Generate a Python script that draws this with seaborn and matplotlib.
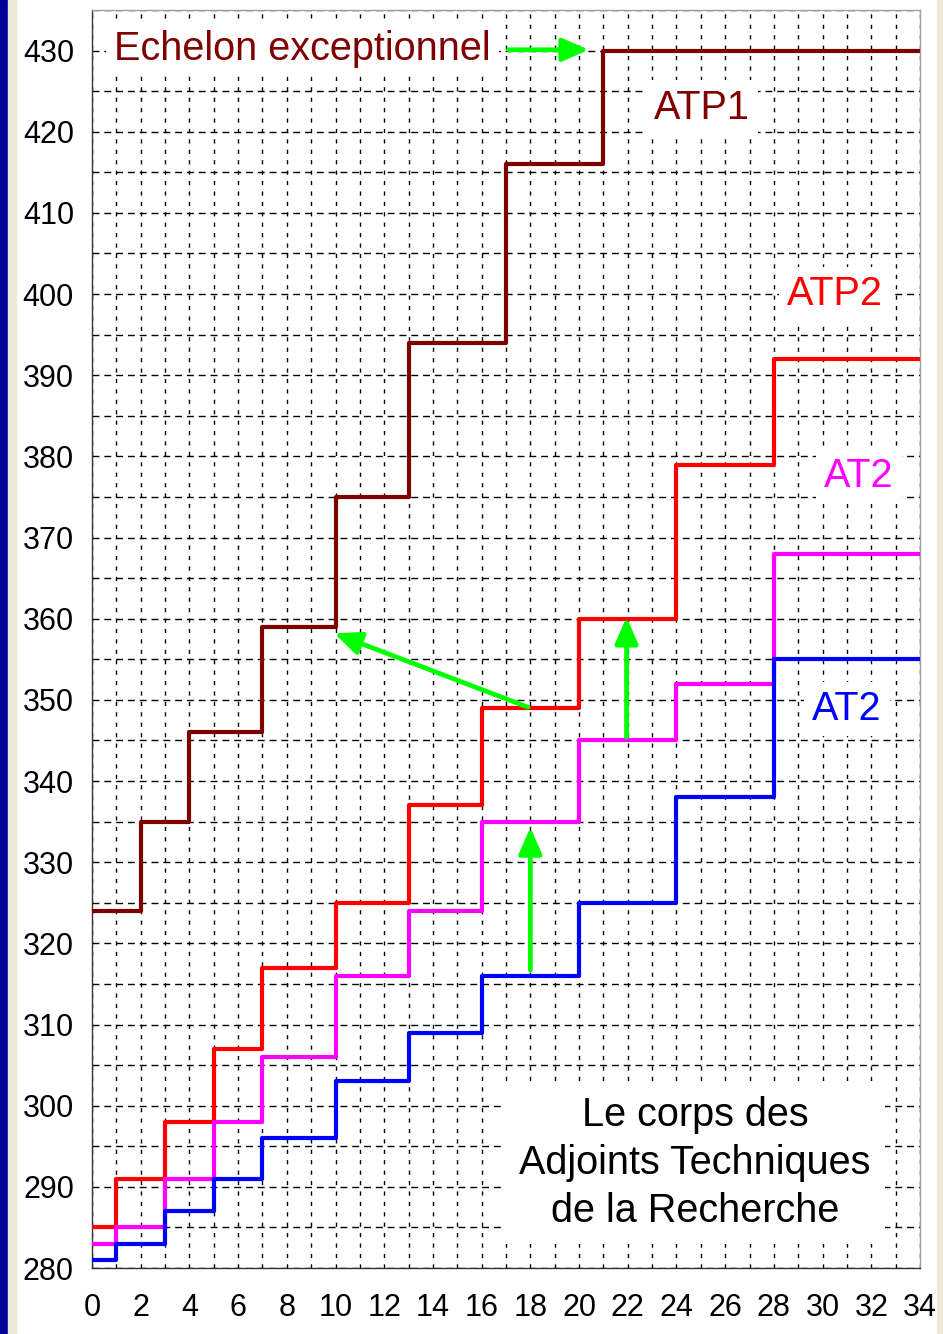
import matplotlib
matplotlib.use('Agg')
import matplotlib.pyplot as plt
import seaborn as sns
import pandas as pd
from matplotlib.ticker import MultipleLocator
from matplotlib.patches import Rectangle


# years of service where each echelon starts, and the indice for that echelon
x_atp1 = [0, 2, 4, 7, 10, 13, 17, 21, 34]
atp1 = [324, 335, 346, 359, 375, 394, 416, 430, 430]

x_std = [0, 1, 3, 5, 7, 10, 13, 16, 20, 24, 28, 34]
atp2 = [285, 291, 298, 307, 317, 325, 337, 349, 360, 379, 392, 392]
at2_mag = [283, 285, 291, 298, 306, 316, 324, 335, 345, 352, 368, 368]
at2_blue = [281, 283, 287, 291, 296, 303, 309, 316, 325, 338, 355, 355]

x_ticks = list(range(0, 35, 2))
y_ticks = list(range(280, 431, 10))

sns.set_style('white')
plt.rcParams['font.family'] = ['Liberation Sans', 'DejaVu Sans']

fig = plt.figure(figsize=(9.43, 13.34), dpi=100)
fig.patch.set_facecolor('white')
# window border on the left / right like the screenshot
fig.patches.append(Rectangle((0, 0), 8 / 943, 1, transform=fig.transFigure, color='#000099', zorder=-5))
fig.patches.append(Rectangle((8 / 943, 0), 8 / 943, 1, transform=fig.transFigure, color='#ece9d8', zorder=-5))
fig.patches.append(Rectangle((937 / 943, 0), 6 / 943, 1, transform=fig.transFigure, color='#ece9d8', zorder=-5))

ax = fig.add_axes([92 / 943, 66 / 1334, 828 / 943, 1258 / 1334])

series = [
    (x_atp1, atp1, '#800000'),
    (x_std, atp2, '#ff0000'),
    (x_std, at2_mag, '#ff00ff'),
    (x_std, at2_blue, '#0000ff'),
]
for xs, ys, col in series:
    df = pd.DataFrame({'annee': xs, 'indice': ys})
    sns.lineplot(data=df, x='annee', y='indice', ax=ax, color=col, linewidth=3.0,
                 drawstyle='steps-post', legend=False, zorder=3)

ax.set_xlim(0, 34)
ax.set_ylim(280, 435)
ax.set_xticks(x_ticks)
ax.set_yticks(y_ticks)
ax.xaxis.set_minor_locator(MultipleLocator(1))
ax.yaxis.set_minor_locator(MultipleLocator(5))
ax.grid(True, which='both', axis='x', color='black', linewidth=1.0, linestyle=(0, (3, 4.5)))
ax.grid(True, which='both', axis='y', color='black', linewidth=1.0, linestyle=(0, (5, 3.5)))
ax.set_axisbelow(True)
ax.tick_params(which='minor', length=0)
ax.tick_params(which='major', direction='out', length=7, width=1, labelsize=22, colors='black')
ax.tick_params(axis='x', pad=11)
ax.tick_params(axis='y', pad=6)
ax.set_xlabel('')
ax.set_ylabel('')

for s in ['left', 'bottom']:
    ax.spines[s].set_color('#333333')
    ax.spines[s].set_linewidth(1)
for s in ['top', 'right']:
    ax.spines[s].set_color('#a0a0a0')
    ax.spines[s].set_linewidth(1)

box = dict(facecolor='white', edgecolor='none', pad=6)
ax.text(0.9, 428.9, 'Echelon exceptionnel', color='#800000', fontsize=28.5,
        ha='left', va='baseline', bbox=box, zorder=5)
ax.text(25.05, 421.6, 'ATP1', color='#800000', fontsize=28.5, ha='center', va='baseline', bbox=box, zorder=5)
ax.text(30.5, 398.6, 'ATP2', color='#ff0000', fontsize=28.5, ha='center', va='baseline', bbox=box, zorder=5)
ax.text(31.5, 376.2, 'AT2', color='#ff00ff', fontsize=28.5, ha='center', va='baseline', bbox=box, zorder=5)
ax.text(31.0, 347.5, 'AT2', color='#0000ff', fontsize=28.5, ha='center', va='baseline', bbox=box, zorder=5)
ax.text(24.76, 292.9, 'Le corps des\nAdjoints Techniques\nde la Recherche', color='black',
        fontsize=28.5, ha='center', va='center', multialignment='center', linespacing=1.33,
        bbox=dict(facecolor='white', edgecolor='none', pad=10), zorder=5)

# green arrows
arrows = [
    ((17.1, 430.1), (20.4, 430.1)),
    ((17.9, 349.1), (9.95, 358.2)),
    ((21.95, 345.4), (21.95, 360.2)),
    ((18.0, 316.7), (18.0, 334.3)),
]
for start, end in arrows:
    ax.annotate('', xy=end, xytext=start,
                arrowprops=dict(arrowstyle='-|>,head_length=0.8,head_width=0.35', color='#00ff00',
                                lw=3.4, mutation_scale=20, shrinkA=0, shrinkB=0),
                zorder=6)

fig.savefig('out.png', dpi=100)
